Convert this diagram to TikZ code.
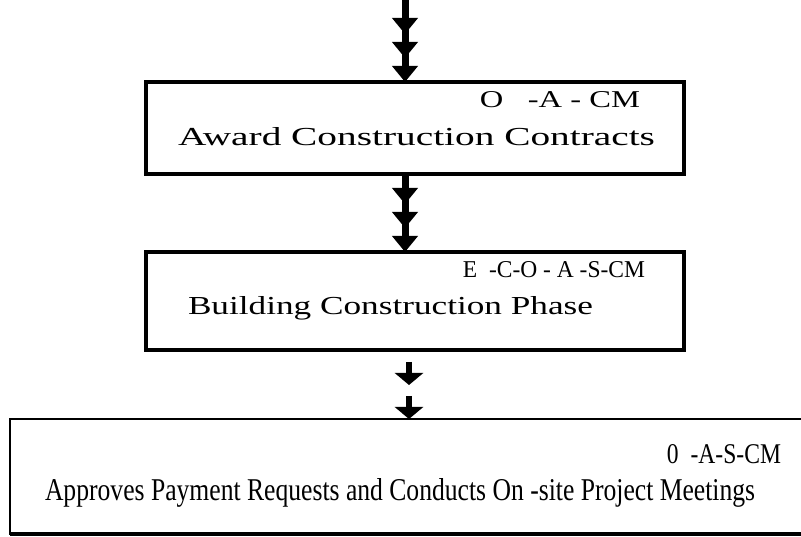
\documentclass[tikz,border=0pt]{standalone}
\usepackage{fontspec}
\setmainfont{Liberation Serif}
\usetikzlibrary{arrows.meta}
\tikzset{
  boxa/.style={draw, line width=3.5pt, inner sep=0pt, outer sep=0pt},
  boxb/.style={draw, line width=2.5pt, inner sep=0pt, outer sep=0pt},
  lbl/.style={anchor=base west, inner sep=0pt, outer sep=0pt},
  lblr/.style={anchor=base east, inner sep=0pt, outer sep=0pt},
  stem/.style={line width=7pt},
  tri/.style={-{Triangle[width=25pt,length=16pt,sep=8pt]Triangle[width=25pt,length=16pt,sep=8pt]Triangle[width=25pt,length=16pt]}},
  one/.style={line width=6pt, -{Triangle[width=28pt,length=12pt]}}
}
\begin{document}
\begin{tikzpicture}[x=1pt,y=-1pt]
\useasboundingbox (0,0) rectangle (801,537);
\clip (0,0) rectangle (801,537);
\node[boxa, minimum width=538pt, minimum height=92pt] (b1) at (415,128) {};
\node[boxa, minimum width=538pt, minimum height=98pt] (b2) at (415,301) {};
\node[boxb, minimum width=795pt, minimum height=115pt] (b3) at (407.5,476.5) {};
\draw[line width=4pt] (b3.south west) -- (b3.south east);
% labels
\node[lblr] (l1) at (640,108) {\resizebox{160pt}{16pt}{O\ \ \ -A - CM}};
\node[lbl] (l2) at (178,146) {\resizebox{477pt}{18pt}{Award Construction Contracts}};
\node[lblr] (l3) at (645,278) {\resizebox{182pt}{16pt}{E\ \ -C-O - A -S-CM}};
\node[lbl] (l4) at (188,315) {\resizebox{405pt}{18pt}{Building Construction Phase}};
\node[lblr] (l5) at (781,464) {\resizebox{114pt}{19pt}{0\ \ -A-S-CM}};
\node[lbl] (l6) at (45,500) {\resizebox{710pt}{22pt}{Approves Payment Requests and Conducts On -site Project Meetings}};
% connectors
\coordinate (t0) at (405,-2);
\draw[stem, tri] (t0) -- (t0 |- b1.north);
\coordinate (m0) at (405,0);
\draw[stem, tri] (m0 |- b1.south) -- (m0 |- b2.north);
\coordinate (c1) at (409,362);
\coordinate (c2) at (409,385);
\coordinate (c3) at (409,396);
\draw[one] (c1) -- (c2);
\draw[one] (c3) -- (c3 |- b3.north);
\end{tikzpicture}
\end{document}
